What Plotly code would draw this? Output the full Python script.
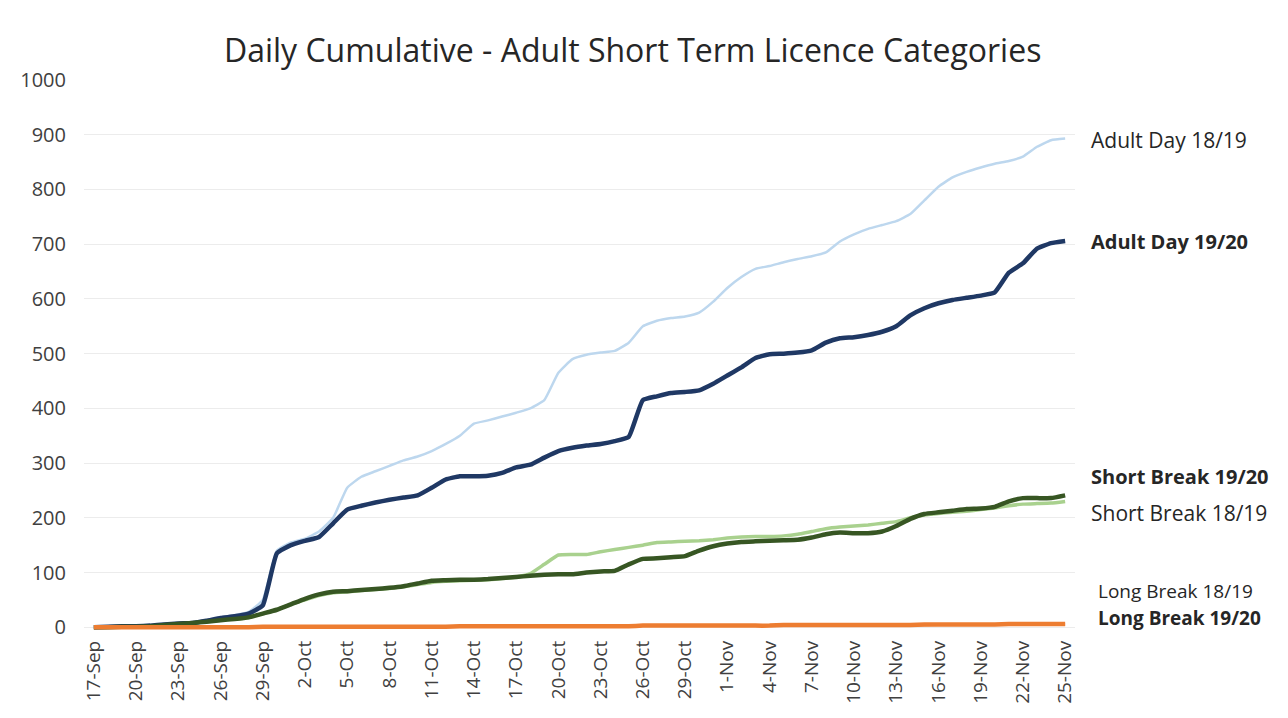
import pandas as pd
import plotly.graph_objects as go

# 17-Sep to 25-Nov, one point per day
dates = pd.date_range("2019-09-17", "2019-11-25", freq="D")
date_labels = [f"{d.day}-{d.strftime('%b')}" for d in dates]

adult_day_1819 = [0, 1, 2, 2, 3, 5, 7, 9, 13, 18, 22, 28, 50, 140, 155, 162, 175, 200, 255, 275,
                  285, 295, 305, 312, 322, 335, 350, 372, 378, 385, 392, 400, 415, 465, 490, 498, 502, 505, 520, 550,
                  560, 565, 568, 575, 595, 620, 640, 655, 660, 667, 673, 678, 685, 705, 718, 728, 735, 742, 755, 780,
                  805, 822, 832, 840, 847, 852, 860, 878, 890, 893]
adult_day_1920 = [0, 1, 2, 2, 3, 5, 7, 8, 12, 17, 20, 25, 40, 135, 150, 158, 165, 190, 215, 222,
                  228, 233, 237, 241, 255, 270, 276, 276, 277, 282, 292, 297, 310, 322, 328, 332, 335, 340, 348, 415,
                  422, 428, 430, 433, 445, 460, 475, 492, 499, 500, 502, 506, 520, 528, 530, 534, 540, 550, 570, 583,
                  592, 598, 602, 606, 612, 648, 665, 692, 702, 706]
short_break_1819 = [0, 0, 1, 1, 2, 4, 6, 8, 10, 13, 15, 18, 25, 32, 42, 50, 58, 63, 65, 67,
                    69, 71, 74, 78, 82, 84, 85, 86, 87, 89, 92, 98, 115, 132, 133, 133, 138, 142, 146, 150,
                    155, 156, 157, 158, 160, 163, 165, 166, 166, 167, 170, 175, 180, 183, 185, 187, 190, 193, 200, 205,
                    208, 210, 212, 215, 218, 222, 225, 226, 227, 230]
short_break_1920 = [0, 0, 1, 1, 2, 4, 6, 8, 10, 13, 15, 18, 25, 32, 42, 52, 60, 65, 66, 68,
                    70, 72, 75, 80, 85, 86, 87, 87, 88, 90, 92, 94, 96, 97, 97, 100, 102, 103, 115, 125,
                    126, 128, 130, 140, 148, 153, 156, 157, 158, 159, 160, 164, 170, 173, 172, 172, 175, 185, 198, 207,
                    210, 213, 216, 217, 220, 230, 236, 236, 236, 241]
long_break_1819 = [0, 0, 0, 0, 0, 0, 0, 0, 0, 0, 0, 0, 1, 1, 1, 1, 1, 1, 1, 1,
                   1, 1, 1, 1, 1, 1, 2, 2, 2, 2, 2, 2, 2, 2, 2, 2, 2, 2, 2, 3,
                   3, 3, 3, 3, 3, 3, 3, 3, 3, 4, 4, 4, 4, 4, 4, 4, 4, 4, 4, 4,
                   5, 5, 5, 5, 5, 5, 5, 5, 5, 5]
long_break_1920 = [0, 0, 0, 0, 0, 0, 0, 0, 0, 0, 0, 0, 1, 1, 1, 1, 1, 1, 1, 1,
                   1, 1, 1, 1, 1, 1, 2, 2, 2, 2, 2, 2, 2, 2, 2, 2, 2, 2, 2, 3,
                   3, 3, 3, 3, 3, 3, 3, 3, 3, 4, 4, 4, 4, 4, 4, 4, 4, 4, 4, 5,
                   5, 5, 5, 5, 5, 6, 6, 6, 6, 6]

y_ticks = list(range(0, 1001, 100))

# name, values, colour, width, bold label, label x (paper), label y (data), label size
series = [
    ("Long Break 18/19", long_break_1819, "#F4B183", 3, False, 1.021, 67, 19),
    ("Adult Day 18/19", adult_day_1819, "#BDD7EE", 2.5, False, 1.014, 890, 21),
    ("Short Break 18/19", short_break_1819, "#A9D18E", 3.5, False, 1.014, 209, 21),
    ("Adult Day 19/20", adult_day_1920, "#1F3864", 4.5, True, 1.014, 704, 20),
    ("Short Break 19/20", short_break_1920, "#375623", 4.5, True, 1.014, 275, 20),
    ("Long Break 19/20", long_break_1920, "#ED7D31", 4.5, True, 1.021, 17, 19),
]

FONT = "'Open Sans', sans-serif"

fig = go.Figure()
for name, vals, colour, width, *_ in series:
    fig.add_trace(go.Scatter(
        x=list(range(len(date_labels))),
        y=vals,
        mode="lines",
        name=name,
        line=dict(color=colour, width=width, shape="spline", smoothing=0.4),
    ))

for name, vals, colour, width, bold, label_x, label_y, size in series:
    fig.add_annotation(
        x=label_x, y=label_y, xref="paper", yref="y",
        text=f"<b>{name}</b>" if bold else name,
        showarrow=False, xanchor="left", yanchor="middle",
        font=dict(family=FONT, size=size, color="#262626"),
    )

tick_idx = list(range(0, len(date_labels), 3))
fig.update_xaxes(
    range=[-0.7, len(date_labels) - 0.3],
    tickmode="array",
    tickvals=tick_idx,
    ticktext=[date_labels[i] for i in tick_idx],
    tickangle=-90,
    tickfont=dict(family=FONT, size=19, color="#404040"),
    showgrid=False,
    zeroline=False,
    showline=False,
    ticklabelstandoff=6,
)
fig.update_yaxes(
    range=[-5, 1000],
    tickvals=y_ticks,
    tickfont=dict(family=FONT, size=20, color="#404040"),
    gridcolor="#ECECEC",
    zeroline=False,
    ticks="",
    ticklabelstandoff=17,
)

fig.update_layout(
    title=dict(text="Daily Cumulative - Adult Short Term Licence Categories",
               x=0.485, xanchor="center", y=1 - 0.059, yref="container", yanchor="middle",
               font=dict(family=FONT, size=32, color="#262626")),
    width=1288, height=718,
    margin=dict(l=72, r=221, t=72, b=96),
    showlegend=False,
    plot_bgcolor="white",
    paper_bgcolor="white",
)

fig.write_html("out.html")
